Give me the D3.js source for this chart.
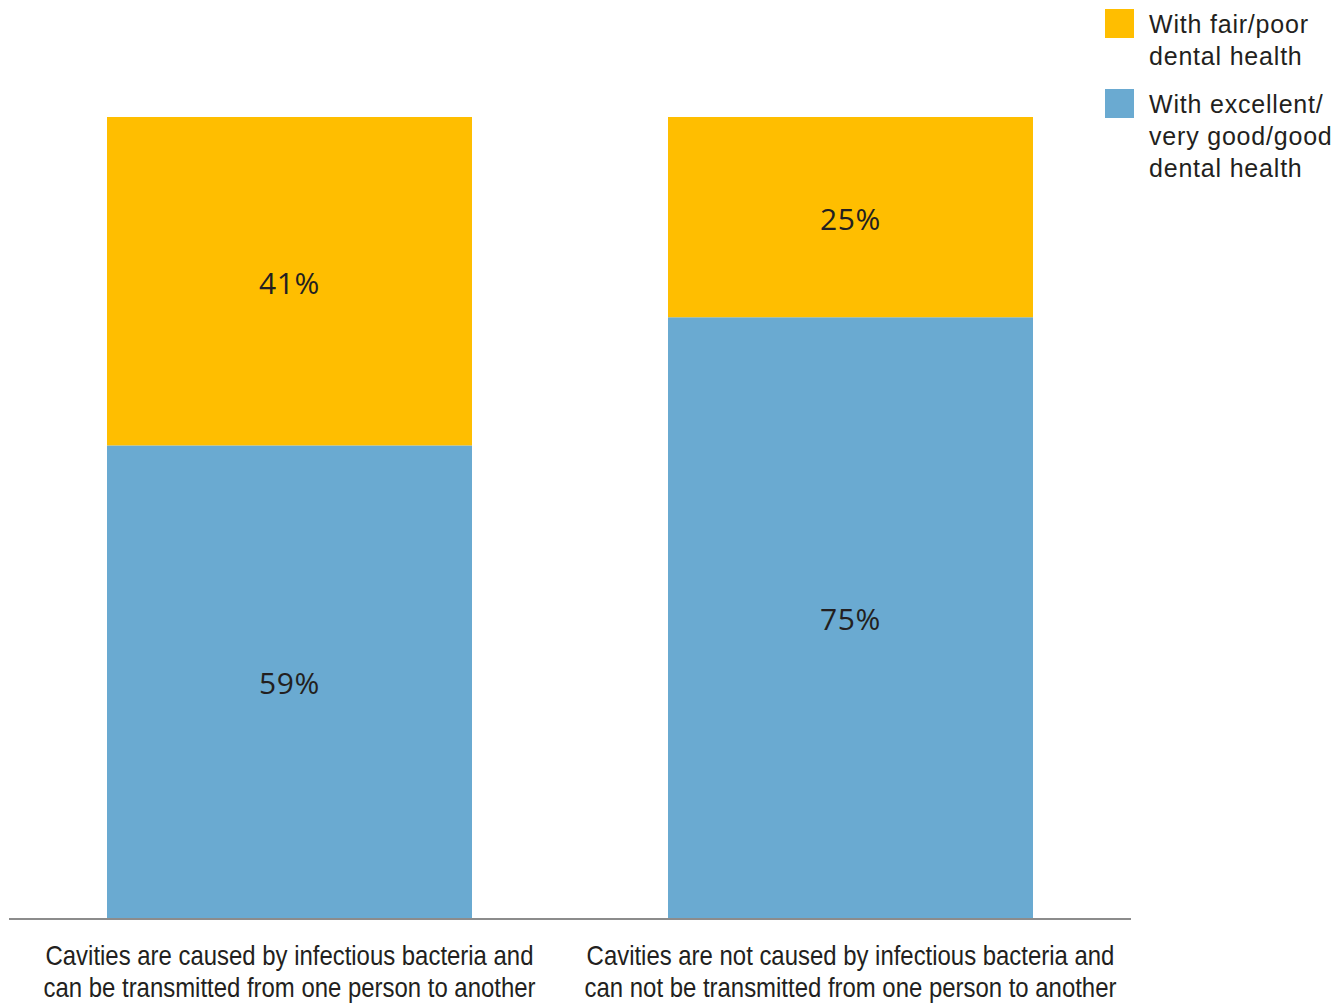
<!DOCTYPE html>
<html>
<head>
<meta charset="utf-8">
<script src="https://cdn.jsdelivr.net/npm/d3@7"></script>
<style>
  html, body { margin: 0; padding: 0; background: #fff; }
  svg { display: block; }
</style>
</head>
<body>
<svg id="chart" width="1335" height="1003"></svg>
<script>
// Survey answers, split by self-rated dental health
const categories = [
  ["Cavities are caused by infectious bacteria and", "can be transmitted from one person to another"],
  ["Cavities are not caused by infectious bacteria and", "can not be transmitted from one person to another"]
];
const goodHealth = [59, 75];   // excellent / very good / good
const poorHealth = [41, 25];   // fair / poor
const seriesNames = ["With fair/poor dental health", "With excellent/very good/good dental health"];
const legendLines = [
  ["With fair/poor", "dental health"],
  ["With excellent/", "very good/good", "dental health"]
];
const colors = { poor: "#FFBE00", good: "#6AAAD1" };

const svg = d3.select("#chart");
const plot = { left: 9, right: 1131, top: 117, bottom: 918 };

const x = d3.scaleBand()
  .domain(d3.range(categories.length))
  .range([plot.left, plot.right])
  .paddingInner(0.3494)
  .paddingOuter(0.1747);

const y = d3.scaleLinear().domain([0, 100]).range([plot.bottom, plot.top]);

const rows = categories.map((c, i) => ({ i, good: goodHealth[i], poor: poorHealth[i] }));
const stacked = d3.stack().keys(["good", "poor"])(rows);

const labelFont = "'Open Sans', 'Noto Sans', sans-serif";
const condFont = "'Liberation Sans', Arial, sans-serif";
const legendFont = "'Liberation Sans', Arial, sans-serif";

stacked.forEach(layer => {
  const g = svg.append("g");
  g.selectAll("rect")
    .data(layer)
    .join("rect")
    .attr("x", d => x(d.data.i))
    .attr("width", x.bandwidth())
    .attr("y", d => y(d[1]))
    .attr("height", d => y(d[0]) - y(d[1]))
    .attr("fill", colors[layer.key]);
  g.selectAll("text")
    .data(layer)
    .join("text")
    .attr("x", d => x(d.data.i) + x.bandwidth() / 2)
    .attr("y", d => (y(d[0]) + y(d[1])) / 2 + 12.5)
    .attr("text-anchor", "middle")
    .attr("font-family", labelFont)
    .attr("font-size", 30)
    .attr("font-weight", 500)
    .attr("letter-spacing", 0.6)
    .attr("fill", "#231F20")
    .text(d => d.data[layer.key] + "%");
});

// Baseline
svg.append("line")
  .attr("x1", plot.left).attr("x2", plot.right)
  .attr("y1", plot.bottom + 1).attr("y2", plot.bottom + 1)
  .attr("stroke", "#8C8C8C").attr("stroke-width", 2);

// Category labels, set in a horizontally condensed face
categories.forEach((lines, i) => {
  const cx = x(i) + x.bandwidth() / 2;
  const g = svg.append("g")
    .attr("transform", `translate(${cx},0) scale(0.87,1)`);
  lines.forEach((ln, k) => {
    g.append("text")
      .attr("x", 0)
      .attr("y", 965 + k * 32)
      .attr("text-anchor", "middle")
      .attr("font-family", condFont)
      .attr("font-size", 27.5)
      .attr("fill", "#231F20")
      .text(ln);
  });
});

// Legend
const legend = svg.append("g").attr("transform", "translate(1105,9)");
const legendItems = [
  { color: colors.poor, lines: legendLines[0], dy: 0 },
  { color: colors.good, lines: legendLines[1], dy: 80 }
];
legendItems.forEach((it, idx) => {
  const g = legend.append("g").attr("transform", `translate(0,${it.dy})`)
    .attr("aria-label", seriesNames[idx]);
  g.append("rect").attr("width", 29).attr("height", 29).attr("fill", it.color);
  const t = g.append("text")
    .attr("font-family", legendFont)
    .attr("font-size", 25)
    .attr("letter-spacing", 0.8)
    .attr("fill", "#231F20");
  it.lines.forEach((ln, k) => {
    t.append("tspan").attr("x", 44).attr("y", 24 + k * 32).text(ln);
  });
});
</script>
</body>
</html>
